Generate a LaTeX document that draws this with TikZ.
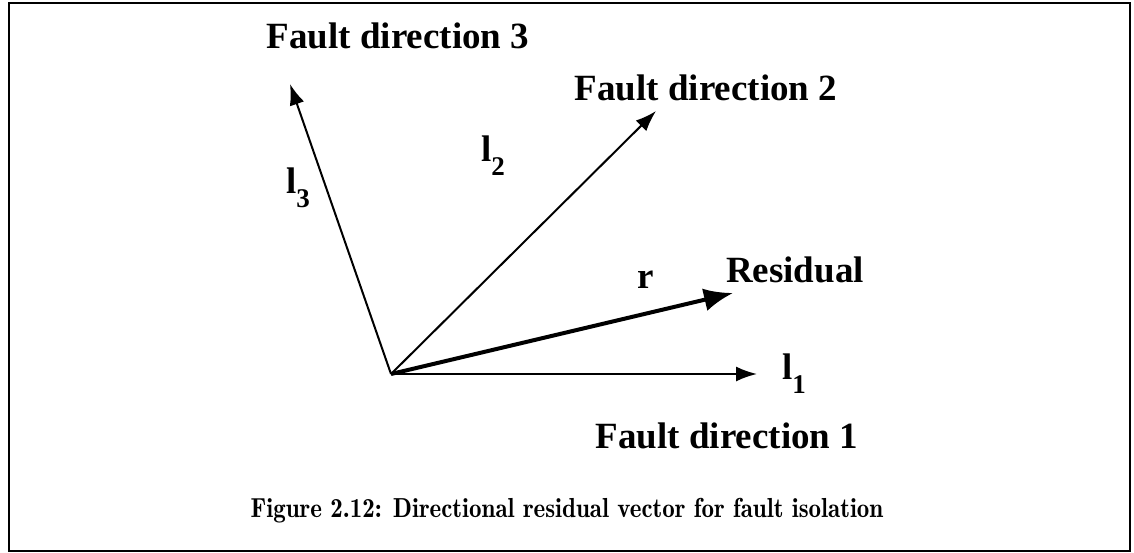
\documentclass[tikz,border=0pt]{standalone}
\usepackage{fontspec}
\setmainfont{Latin Modern Roman}
\newfontfamily\timesb{Liberation Serif}[UprightFont=* Bold]
\newfontfamily\capfont{lmromandemi10-regular.otf}
\usetikzlibrary{arrows.meta}
\tikzset{
  vec/.style={line width=2pt,-{Latex[length=21pt,width=15pt]}},
  resvec/.style={line width=4pt,-{Latex[length=29pt,width=23pt]}},
  lbl/.style={font=\timesb\fontsize{37}{40}\selectfont,inner sep=0pt},
  captext/.style={font=\capfont\fontsize{25}{30}\selectfont,inner sep=0pt},
  frame/.style={line width=2pt}
}
\newcommand{\lsub}[1]{l\raisebox{-0.38em}{\fontsize{27}{27}\selectfont #1}}
\begin{document}
\begin{tikzpicture}[x=1pt,y=-1pt]
\useasboundingbox (0,0) rectangle (1134,553);
\draw[frame] (9,3) rectangle (1130,551);
\coordinate (o) at (391,374);
\coordinate (t1) at (757,374);
\coordinate (t2) at (656,111);
\coordinate (t3) at (290,84);
\coordinate (tr) at (733,293);
\draw[vec] (o) -- (t1);
\draw[vec] (o) -- (t2);
\draw[vec] (o) -- (t3);
\draw[resvec] (o) -- (tr);
\node[lbl] (f3) at (398,36) {Fault direction 3};
\node[lbl] (f2) at (706,88) {Fault direction 2};
\node[lbl] (f1) at (727,436) {Fault direction 1};
\node[lbl] (res) at (795,270) {Residual};
\node[lbl] (r) at (646,280) {r};
\node[lbl] (l1) at (794,374) {\lsub{1}};
\node[lbl] (l2) at (493,156) {\lsub{2}};
\node[lbl] (l3) at (298,188) {\lsub{3}};
\node[captext] (caption) at (567,511) {\scalebox{1}[1.1]{Figure 2.12: Directional residual vector for fault isolation}};
\end{tikzpicture}
\end{document}
